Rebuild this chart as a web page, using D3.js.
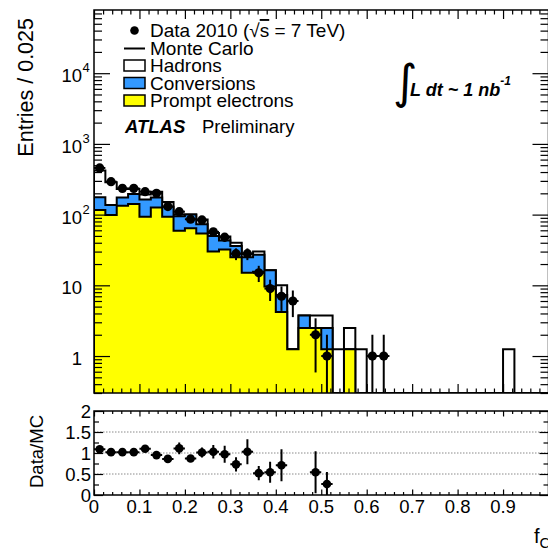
<!DOCTYPE html>
<html>
<head>
<meta charset="utf-8">
<script src="https://cdn.jsdelivr.net/npm/d3@7"></script>
<style>
  html, body { margin: 0; padding: 0; background: #ffffff; }
  svg { display: block; }
</style>
</head>
<body>
<svg id="chart" width="548" height="550"></svg>
<script>
// ---- Histogram contents (40 bins of width 0.025 on [0, 1]) ----
const binWidth = 0.025;
const nBins = 40;

// Data 2010 counts per bin
const dataCounts = [457, 292, 235, 235, 211, 200, 130, 110, 86, 84,
                    57, 48, 28, 28, 15, 9, 7, 6, 0, 2,
                    1, 0, 0, 0, 1, 1, 0, 0, 0, 0,
                    0, 0, 0, 0, 0, 0, 0, 0, 0, 0];

// Monte Carlo components (stacked: prompt electrons, conversions, hadrons)
const promptElectrons = [116, 99, 134, 141, 93, 126, 93, 59, 64, 54,
                         30, 32, 25, 15, 15.6, 9.6, 4.2, 1.25, 2.5, 2.5,
                         1.25, 0, 1.25, 0, 0, 0, 0, 0, 0, 0,
                         0, 0, 0, 0, 0, 0, 0, 0, 0, 0];
const conversions = [60, 38, 40, 55, 71, 49, 36, 36, 36, 19,
                     20, 11, 11, 10, 11.4, 6.8, 3.1, 0, 1.25, 0,
                     1.25, 0, 0, 0, 0, 0, 0, 0, 0, 0,
                     0, 0, 0, 0, 0, 0, 0, 0, 0, 0];
const hadrons = [243, 149, 56, 34, 28, 35, 22, 5, 0, 12,
                 5, 6, 4, 3, 3, 0, 2.7, 0, 0, 1.25,
                 1.25, 1.25, 1.25, 1.25, 0, 0, 0, 0, 0, 0,
                 0, 0, 0, 0, 0, 0, 1.25, 0, 0, 0];

// Data/MC ratio points (bin index, value, uncertainty)
const ratioBins   = [0, 1, 2, 3, 4, 5, 6, 7, 8, 9, 10, 11, 12, 13, 14, 15, 16, 19, 20];
const ratioValues = [1.09, 1.02, 1.02, 1.02, 1.10, 0.95, 0.86, 1.11, 0.87, 1.01,
                     1.03, 0.97, 0.73, 1.03, 0.52, 0.54, 0.71, 0.54, 0.26];
const ratioErrors = [0.05, 0.04, 0.04, 0.04, 0.06, 0.05, 0.06, 0.14, 0.08, 0.12,
                     0.16, 0.20, 0.17, 0.30, 0.17, 0.25, 0.38, 0.50, 0.29];

// Axis ticks and labels
const xTickValues = [0, 0.1, 0.2, 0.3, 0.4, 0.5, 0.6, 0.7, 0.8, 0.9];
const xTickLabels = ["0", "0.1", "0.2", "0.3", "0.4", "0.5", "0.6", "0.7", "0.8", "0.9"];
const yTickValues = [1, 10, 100, 1000, 10000];
const yTickLabels = ["1", "10", "10^2", "10^3", "10^4"];
const ratioTickValues = [0, 0.5, 1, 1.5, 2];
const ratioTickLabels = ["0", "0.5", "1", "1.5", "2"];
const ratioGridValues = [0.5, 1, 1.5];

// Legend entries
const legendLabels = ["Monte Carlo", "Hadrons", "Conversions", "Prompt electrons"];

// ---- Layout ----
const FONT = "'Liberation Sans', Arial, Helvetica, sans-serif";
const main = { left: 94, right: 548.5, top: 10, bottom: 393 };
const ratio = { top: 411, bottom: 495 };
const colors = { hadrons: "#ffffff", conversions: "#3399ff", prompt: "#ffff00" };

const svg = d3.select("#chart");

const x = d3.scaleLinear().domain([0, 1]).range([main.left, main.right]);
const y = d3.scaleLog().domain([0.3, 78300]).range([main.bottom, main.top]);
const yr = d3.scaleLinear().domain([0, 2]).range([ratio.bottom, ratio.top]);
const yFloor = y.domain()[0];
const yc = v => y(Math.max(v, yFloor));

const defs = svg.append("defs");
defs.append("clipPath").attr("id", "clip-main").append("rect")
  .attr("x", main.left).attr("y", main.top)
  .attr("width", main.right - main.left).attr("height", main.bottom - main.top);
defs.append("clipPath").attr("id", "clip-ratio").append("rect")
  .attr("x", main.left).attr("y", ratio.top)
  .attr("width", main.right - main.left).attr("height", ratio.bottom - ratio.top);

const edges = d3.range(nBins + 1).map(i => i * binWidth);
const centers = d3.range(nBins).map(i => (i + 0.5) * binWidth);

// ---- Stacked MC histograms ----
const stackPrompt = promptElectrons.slice();
const stackConv = stackPrompt.map((v, i) => v + conversions[i]);
const stackTotal = stackConv.map((v, i) => v + hadrons[i]);

function stepPoints(values) {
  const pts = values.map((v, i) => [edges[i], v]);
  pts.push([edges[nBins], values[nBins - 1]]);
  return pts;
}

const area = d3.area()
  .x(d => x(d[0])).y0(main.bottom).y1(d => yc(d[1]))
  .curve(d3.curveStepAfter);
const outline = d3.line()
  .x(d => x(d[0])).y(d => yc(d[1]))
  .curve(d3.curveStepAfter);

const gHist = svg.append("g").attr("clip-path", "url(#clip-main)");
[
  { values: stackTotal, fill: colors.hadrons },
  { values: stackConv, fill: colors.conversions },
  { values: stackPrompt, fill: colors.prompt }
].forEach(layer => {
  const pts = stepPoints(layer.values);
  gHist.append("path").attr("d", area(pts)).attr("fill", layer.fill).attr("stroke", "none");
  const line = [[0, 0]].concat(pts, [[1, 0]]);
  gHist.append("path").attr("d", outline(line))
    .attr("fill", "none").attr("stroke", "#000").attr("stroke-width", 2);
});

// ---- Data points with Poisson errors ----
const gData = svg.append("g").attr("clip-path", "url(#clip-main)");
dataCounts.forEach((n, i) => {
  if (n <= 0) return;
  const err = Math.sqrt(n);
  const cx = x(centers[i]);
  gData.append("line")
    .attr("x1", cx).attr("x2", cx)
    .attr("y1", yc(n - err)).attr("y2", yc(n + err))
    .attr("stroke", "#000").attr("stroke-width", 2);
  gData.append("line")
    .attr("x1", x(edges[i])).attr("x2", x(edges[i + 1]))
    .attr("y1", y(n)).attr("y2", y(n))
    .attr("stroke", "#000").attr("stroke-width", 2);
  gData.append("circle").attr("cx", cx).attr("cy", y(n)).attr("r", 4.6).attr("fill", "#000");
});

// ---- Axes: ticks drawn inside the frame on all sides ----
function minorLinear(lo, hi, step, majors) {
  return d3.range(lo, hi + step / 2, step)
    .map(v => +v.toFixed(6))
    .filter(v => !majors.some(m => Math.abs(m - v) < 1e-6));
}
const xMajor = d3.range(0, 1.0001, 0.1).map(v => +v.toFixed(6));
const xMinor = minorLinear(0, 1, 0.02, xMajor);
const logMinor = [];
for (let d = -1; d <= 4; d++) {
  for (let k = 2; k <= 9; k++) {
    const v = k * Math.pow(10, d);
    if (v > y.domain()[0] && v < y.domain()[1]) logMinor.push(v);
  }
}

function tickAxis(axisFn, scale, values, size, transform) {
  svg.append("g")
    .attr("transform", transform)
    .call(axisFn(scale).tickValues(values).tickSize(-size).tickSizeOuter(0).tickFormat(""))
    .call(g => g.select(".domain").remove())
    .call(g => g.selectAll(".tick line").attr("stroke", "#000").attr("stroke-width", 1.2));
}

// Main panel
tickAxis(d3.axisBottom, x, xMajor, 9, `translate(0,${main.bottom})`);
tickAxis(d3.axisBottom, x, xMinor, 4.5, `translate(0,${main.bottom})`);
tickAxis(d3.axisTop, x, xMajor, 9, `translate(0,${main.top})`);
tickAxis(d3.axisTop, x, xMinor, 4.5, `translate(0,${main.top})`);
tickAxis(d3.axisLeft, y, yTickValues, 16, `translate(${main.left},0)`);
tickAxis(d3.axisLeft, y, logMinor, 8, `translate(${main.left},0)`);
tickAxis(d3.axisRight, y, yTickValues, 16, `translate(${main.right},0)`);
tickAxis(d3.axisRight, y, logMinor, 8, `translate(${main.right},0)`);

svg.append("rect")
  .attr("x", main.left).attr("y", main.top)
  .attr("width", main.right - main.left).attr("height", main.bottom - main.top)
  .attr("fill", "none").attr("stroke", "#000").attr("stroke-width", 1.5);

// Y tick labels with powers of ten
yTickValues.forEach((v, i) => {
  const [base, exp] = yTickLabels[i].split("^");
  svg.append("text")
    .attr("x", 82).attr("y", y(v) + 9)
    .attr("font-family", FONT).attr("font-size", 18.5)
    .attr("text-anchor", "end").attr("fill", "#000")
    .text(base);
  if (exp) {
    svg.append("text")
      .attr("x", 82.5).attr("y", y(v) - 1)
      .attr("font-family", FONT).attr("font-size", 13)
      .attr("fill", "#000").text(exp);
  }
});

// Ratio panel
const rMajor = [0, 0.5, 1, 1.5, 2];
const rMinor = [0.25, 0.75, 1.25, 1.75];
const gGrid = svg.append("g").attr("clip-path", "url(#clip-ratio)");
ratioGridValues.forEach(v => {
  gGrid.append("line")
    .attr("x1", main.left).attr("x2", main.right)
    .attr("y1", yr(v)).attr("y2", yr(v))
    .attr("stroke", "#8a8a8a").attr("stroke-width", 1)
    .attr("stroke-dasharray", "1.5,1.5");
});

tickAxis(d3.axisBottom, x, xMajor, 5.5, `translate(0,${ratio.bottom})`);
tickAxis(d3.axisBottom, x, xMinor, 3, `translate(0,${ratio.bottom})`);
tickAxis(d3.axisTop, x, xMajor, 5.5, `translate(0,${ratio.top})`);
tickAxis(d3.axisTop, x, xMinor, 3, `translate(0,${ratio.top})`);
tickAxis(d3.axisLeft, yr, rMajor, 9, `translate(${main.left},0)`);
tickAxis(d3.axisLeft, yr, rMinor, 5, `translate(${main.left},0)`);
tickAxis(d3.axisRight, yr, rMajor, 9, `translate(${main.right},0)`);
tickAxis(d3.axisRight, yr, rMinor, 5, `translate(${main.right},0)`);

svg.append("rect")
  .attr("x", main.left).attr("y", ratio.top)
  .attr("width", main.right - main.left).attr("height", ratio.bottom - ratio.top)
  .attr("fill", "none").attr("stroke", "#000").attr("stroke-width", 1.5);

const gRatio = svg.append("g").attr("clip-path", "url(#clip-ratio)");
ratioBins.forEach((b, k) => {
  const v = ratioValues[k], e = ratioErrors[k];
  const cx = x(centers[b]);
  gRatio.append("line")
    .attr("x1", cx).attr("x2", cx)
    .attr("y1", yr(v - e)).attr("y2", yr(v + e))
    .attr("stroke", "#000").attr("stroke-width", 2);
  gRatio.append("line")
    .attr("x1", x(edges[b])).attr("x2", x(edges[b + 1]))
    .attr("y1", yr(v)).attr("y2", yr(v))
    .attr("stroke", "#000").attr("stroke-width", 2);
  gRatio.append("circle").attr("cx", cx).attr("cy", yr(v)).attr("r", 4.3).attr("fill", "#000");
});

ratioTickValues.forEach((v, i) => {
  svg.append("text")
    .attr("x", 91).attr("y", yr(v) + 6.5)
    .attr("font-family", FONT).attr("font-size", 18.5)
    .attr("text-anchor", "end").attr("fill", "#000")
    .text(ratioTickLabels[i]);
});

xTickValues.forEach((v, i) => {
  svg.append("text")
    .attr("x", x(v)).attr("y", 513)
    .attr("font-family", FONT).attr("font-size", 18.5)
    .attr("text-anchor", "middle").attr("fill", "#000")
    .text(xTickLabels[i]);
});

// ---- Axis titles ----
svg.append("text")
  .attr("transform", "translate(33,18) rotate(-90)")
  .attr("font-family", FONT).attr("font-size", 21.5)
  .attr("text-anchor", "end").attr("fill", "#000")
  .text("Entries / 0.025");

svg.append("text")
  .attr("transform", "translate(43,415) rotate(-90)")
  .attr("font-family", FONT).attr("font-size", 18.5)
  .attr("text-anchor", "end").attr("fill", "#000")
  .text("Data/MC");

const xTitle = svg.append("text")
  .attr("x", 534).attr("y", 543)
  .attr("font-family", FONT).attr("font-size", 20).attr("fill", "#000");
xTitle.append("tspan").text("f");
xTitle.append("tspan").attr("font-size", 15).attr("dy", 5).text("C");

// ---- Legend ----
const legX = 124, legW = 21, textX = 150;
const rowY = [30.5, 48.5, 65.5, 83, 100.5];

svg.append("circle").attr("cx", legX + legW / 2).attr("cy", rowY[0]).attr("r", 4.3).attr("fill", "#000");
const dataLabel = svg.append("text")
  .attr("x", textX).attr("y", rowY[0] + 6.5)
  .attr("font-family", FONT).attr("font-size", 19).attr("fill", "#000");
dataLabel.append("tspan").text("Data 2010 (\u221A");
dataLabel.append("tspan").style("text-decoration", "overline").text("s");
dataLabel.append("tspan").text(" = 7 TeV)");

svg.append("line")
  .attr("x1", legX).attr("x2", legX + legW)
  .attr("y1", rowY[1]).attr("y2", rowY[1])
  .attr("stroke", "#000").attr("stroke-width", 2);

[colors.hadrons, colors.conversions, colors.prompt].forEach((c, i) => {
  svg.append("rect")
    .attr("x", legX).attr("y", rowY[i + 2] - 5.5)
    .attr("width", legW).attr("height", 11)
    .attr("fill", c).attr("stroke", "#000").attr("stroke-width", 1.5);
});

legendLabels.forEach((label, i) => {
  svg.append("text")
    .attr("x", textX).attr("y", rowY[i + 1] + 6.5)
    .attr("font-family", FONT).attr("font-size", 19).attr("fill", "#000")
    .text(label);
});

// ATLAS label
svg.append("text")
  .attr("x", 125).attr("y", 133)
  .attr("font-family", FONT).attr("font-size", 18.5)
  .attr("font-weight", "bold").attr("font-style", "italic").attr("fill", "#000")
  .text("ATLAS");
svg.append("text")
  .attr("x", 202).attr("y", 133)
  .attr("font-family", FONT).attr("font-size", 18.5).attr("fill", "#000")
  .text("Preliminary");

// Integrated luminosity
svg.append("text")
  .attr("x", 393).attr("y", 98)
  .attr("font-family", "'DejaVu Sans', sans-serif").attr("font-size", 47)
  .attr("fill", "#000")
  .text("\u222B");
const lumi = svg.append("text")
  .attr("x", 410).attr("y", 96)
  .attr("font-family", FONT).attr("font-size", 18)
  .attr("font-weight", "bold").attr("font-style", "italic").attr("fill", "#000");
lumi.append("tspan").text("L dt ~ 1 nb");
lumi.append("tspan").attr("font-size", 12).attr("dy", -11).text("-1");
</script>
</body>
</html>
